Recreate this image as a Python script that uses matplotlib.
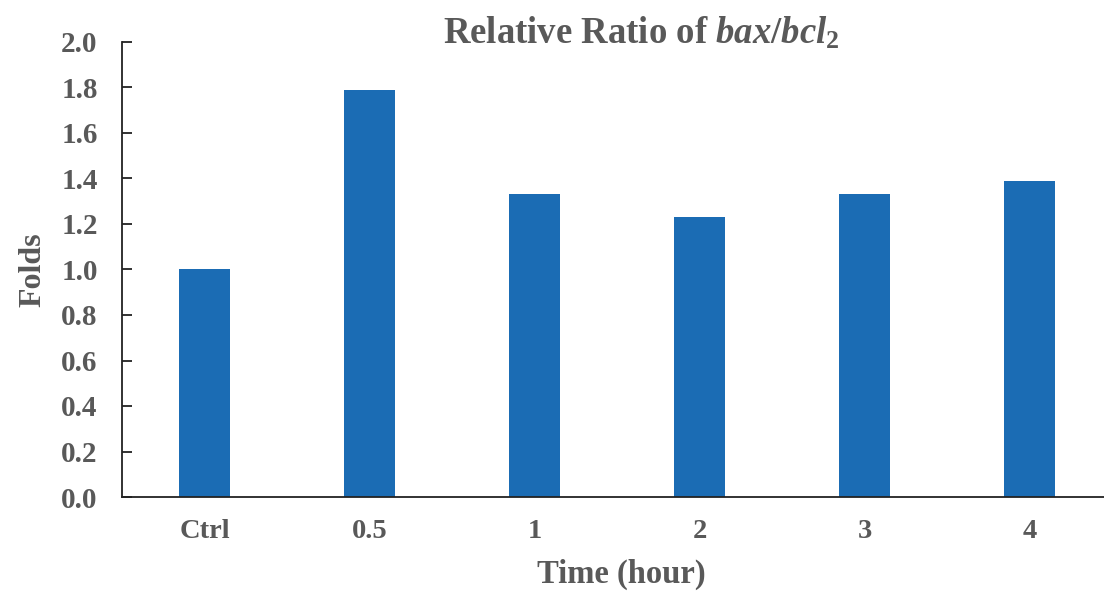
import matplotlib
matplotlib.use("Agg")
import matplotlib.pyplot as plt

categories = ["Ctrl", "0.5", "1", "2", "3", "4"]
folds = [1.00, 1.79, 1.33, 1.23, 1.33, 1.39]
y_ticks = [0.0, 0.2, 0.4, 0.6, 0.8, 1.0, 1.2, 1.4, 1.6, 1.8, 2.0]

plt.rcParams["font.family"] = ["Liberation Serif", "DejaVu Serif"]
plt.rcParams["font.weight"] = "bold"
plt.rcParams["mathtext.fontset"] = "custom"
plt.rcParams["mathtext.rm"] = "Liberation Serif:bold"
plt.rcParams["mathtext.it"] = "Liberation Serif:italic:bold"
plt.rcParams["mathtext.bf"] = "Liberation Serif:bold"

text_color = "#595959"
bar_color = "#1b6cb4"

W, H = 1104, 593
fig = plt.figure(figsize=(W / 100, H / 100), dpi=100)
left, right = 122 / W, 1.0
bottom, top = (H - 497) / H, (H - 42) / H
ax = fig.add_axes([left, bottom, right - left, top - bottom])

x = list(range(len(categories)))
ax.bar(x, folds, width=0.315, color=bar_color, zorder=2)

ax.set_xlim(-0.5, -0.5 + (1104 - 122) / 165)
ax.set_ylim(0, 2.0)
ax.set_yticks(y_ticks)
ax.set_yticklabels([f"{v:.1f}" for v in y_ticks])
ax.set_xticks(x)
ax.set_xticklabels(categories)

for s in ("top", "right"):
    ax.spines[s].set_visible(False)
for s in ("left", "bottom"):
    ax.spines[s].set_color("#222222")
    ax.spines[s].set_linewidth(1.3)

ax.tick_params(axis="y", direction="in", length=7, width=1.3, color="#222222",
               labelsize=21, labelcolor=text_color, pad=17.5)
ax.tick_params(axis="x", length=0, labelsize=20.5, labelcolor=text_color, pad=16)
for lbl in ax.get_xticklabels() + ax.get_yticklabels():
    lbl.set_fontweight("bold")

ax.set_ylabel("Folds", fontsize=23, fontweight="bold", color=text_color, labelpad=10)
ax.set_xlabel("Time (hour)", fontsize=23.5, fontweight="bold", color=text_color, labelpad=13)
ax.xaxis.set_label_coords(0.508, -0.135)

fig.text(0.581, 0.943, r"Relative Ratio of $\mathit{bax/bcl}_{\mathrm{2}}$",
         ha="center", va="center", fontsize=26.5, fontweight="bold", color=text_color)

fig.savefig("out.png", dpi=100)
